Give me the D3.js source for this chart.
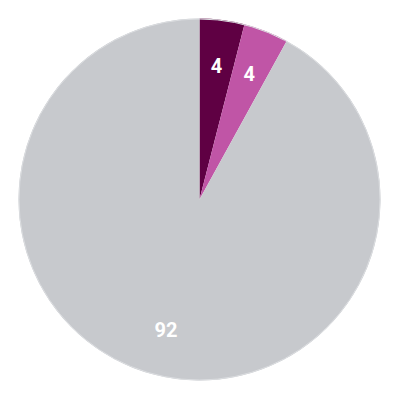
<!DOCTYPE html>
<html>
<head>
<meta charset="utf-8">
<script src="https://d3js.org/d3.v7.min.js"></script>
<style>
  body { margin: 0; background: #fff; }
</style>
</head>
<body>
<div id="chart"></div>
<script>
// slice data
var labels = ["A", "B", "C"];
var values = [4, 4, 92];
var colors = ["#5f0043", "#c055a6", "#c7c9cd"];

var width = 400, height = 400;
var cx = 199.5, cy = 199.5, radius = 181;

var svg = d3.select("#chart").append("svg")
    .attr("width", width).attr("height", height);

var g = svg.append("g").attr("transform", "translate(" + cx + "," + cy + ")");

var pie = d3.pie().sort(null).value(function(d, i) { return values[i]; });
var arcs = pie(labels);

var arc = d3.arc().innerRadius(0).outerRadius(radius);
var labelArc = d3.arc().innerRadius(135).outerRadius(135);

g.selectAll("path.slice").data(arcs).enter().append("path")
    .attr("class", "slice")
    .attr("d", arc)
    .attr("fill", function(d, i) { return colors[i]; });

// faint outer rim
g.append("circle").attr("r", radius - 0.5)
    .attr("fill", "none").attr("stroke", "#dcdee1").attr("stroke-width", 1);

g.selectAll("text.lbl").data(arcs).enter().append("text")
    .attr("class", "lbl")
    .attr("transform", function(d) { return "translate(" + labelArc.centroid(d) + ")"; })
    .attr("text-anchor", "middle")
    .attr("dy", "0.35em")
    .attr("fill", "#fff")
    .attr("font-family", "Roboto, 'DejaVu Sans', sans-serif")
    .attr("font-weight", "bold")
    .attr("font-size", 20)
    .text(function(d, i) { return values[i]; });
</script>
</body>
</html>
